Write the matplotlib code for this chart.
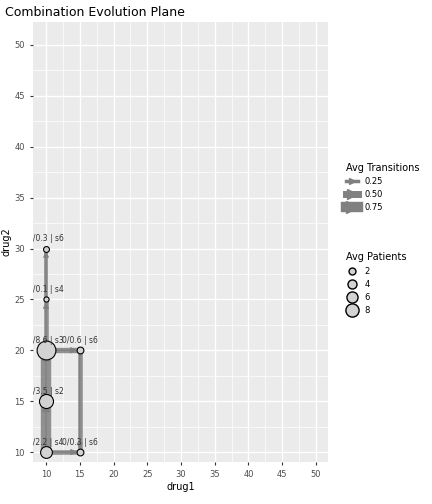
import matplotlib
matplotlib.use("Agg")
import matplotlib.pyplot as plt
from matplotlib.lines import Line2D

node_x = [10, 15, 10, 10, 15, 10, 10]
node_y = [10, 10, 15, 20, 20, 25, 30]
node_pat = [3.0, 0.6, 4.5, 8.6, 0.6, 0.1, 0.3]
node_lab = ["1/2.2 | s4", "0/0.3 | s6", "3/3.5 | s2", "6/8.6 | s3", "0/0.6 | s6", "0/0.1 | s4", "0/0.3 | s6"]
edge_from = [0, 0, 2, 3, 5, 3, 4]
edge_to = [1, 2, 3, 5, 6, 4, 1]
edge_w = [0.3, 1.0, 1.0, 0.3, 0.2, 0.4, 0.3]

fig = plt.figure(figsize=(4.32, 5.04), dpi=100)
ax = fig.add_axes([33/432, 42/504, 295/432, 440/504])
ax.set_facecolor("#ebebeb")
ax.set_xlim(8.07, 51.78)
ax.set_ylim(9.02, 52.26)
ticks = list(range(10, 51, 5))
ax.set_xticks(ticks); ax.set_yticks(ticks)
ax.set_xticks([t + 2.5 for t in ticks[:-1]], minor=True)
ax.set_yticks([t + 2.5 for t in ticks[:-1]], minor=True)
ax.grid(which="major", color="white", lw=1.0)
ax.grid(which="minor", color="white", lw=0.5)
ax.set_axisbelow(True)
for s in ax.spines.values(): s.set_visible(False)
ax.tick_params(which="major", labelsize=6, colors="#4d4d4d", length=2.5, color="#333333")
ax.tick_params(which="minor", length=0)
ax.set_xlabel("drug1", fontsize=7, labelpad=2)
ax.set_ylabel("drug2", fontsize=7, labelpad=2)
fig.text(5/432, 1 - 16/504, "Combination Evolution Plane", fontsize=9)

for f, t, w in zip(edge_from, edge_to, edge_w):
    x0, y0, x1, y1 = node_x[f], node_y[f], node_x[t], node_y[t]
    ax.plot([x0, x1], [y0, y1], color="#808080", lw=1.5 + 6 * w, alpha=0.85,
            solid_capstyle="butt", zorder=2)
    ax.annotate("", xy=(x1, y1), xytext=(x0, y0),
                arrowprops=dict(arrowstyle="-|>", color="#808080", lw=1,
                                mutation_scale=7 + 4 * w, shrinkA=0, shrinkB=2),
                zorder=3)
for x, y, p, l in zip(node_x, node_y, node_pat, node_lab):
    ax.scatter([x], [y], s=12 + 20 * p, facecolor="#d3d3d3", edgecolor="black", lw=0.8, zorder=5)
    ax.text(x, y + 0.5, l, fontsize=5.5, ha="center", va="bottom", color="#333333", zorder=6, clip_on=True)

h1 = [Line2D([], [], color="#808080", lw=2.5 + 2.5 * i, marker=">", ms=5 + 2 * i) for i in range(3)]
fig.legend(h1, ["0.25", "0.50", "0.75"], title="Avg Transitions", loc="upper left",
           bbox_to_anchor=(338/432, 1 - 155/504), frameon=False, fontsize=6,
           title_fontsize=7, handlelength=1.5, alignment="left")
h2 = [Line2D([], [], ls="", marker="o", mfc="#d3d3d3", mec="black", ms=s) for s in (5, 6.5, 8, 9.5)]
fig.legend(h2, ["2", "4", "6", "8"], title="Avg Patients", loc="upper left",
           bbox_to_anchor=(338/432, 1 - 245/504), frameon=False, fontsize=6,
           title_fontsize=7, handlelength=1.5, alignment="left")
fig.savefig("out.png", dpi=100)
